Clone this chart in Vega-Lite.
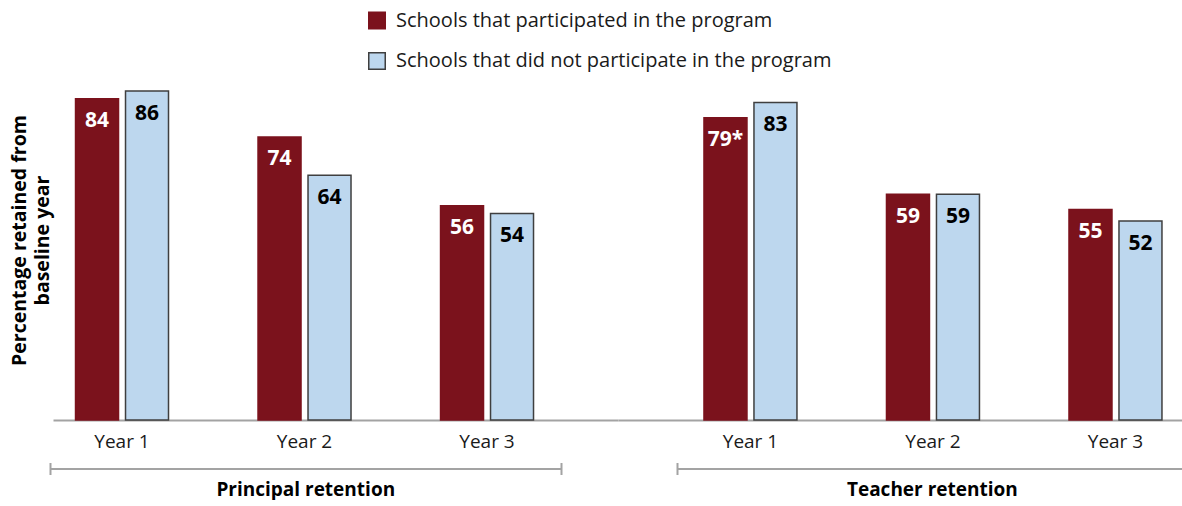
{
  "$schema": "https://vega.github.io/schema/vega-lite/v6.json",
  "padding": {"left": 9, "top": 0, "right": 0, "bottom": 0},
  "background": "white",
  "config": {"font": "Open Sans", "view": {"stroke": null}, "concat": {"spacing": 0}},
  "spacing": 0,
  "data": {"values": [
    {"group": "Principal retention", "year": "Year 1", "series": "Schools that participated in the program", "value": 84, "label": "84"},
    {"group": "Principal retention", "year": "Year 1", "series": "Schools that did not participate in the program", "value": 86, "label": "86"},
    {"group": "Principal retention", "year": "Year 2", "series": "Schools that participated in the program", "value": 74, "label": "74"},
    {"group": "Principal retention", "year": "Year 2", "series": "Schools that did not participate in the program", "value": 64, "label": "64"},
    {"group": "Principal retention", "year": "Year 3", "series": "Schools that participated in the program", "value": 56, "label": "56"},
    {"group": "Principal retention", "year": "Year 3", "series": "Schools that did not participate in the program", "value": 54, "label": "54"},
    {"group": "Teacher retention", "year": "Year 1", "series": "Schools that participated in the program", "value": 79, "label": "79*"},
    {"group": "Teacher retention", "year": "Year 1", "series": "Schools that did not participate in the program", "value": 83, "label": "83"},
    {"group": "Teacher retention", "year": "Year 2", "series": "Schools that participated in the program", "value": 59, "label": "59"},
    {"group": "Teacher retention", "year": "Year 2", "series": "Schools that did not participate in the program", "value": 59, "label": "59"},
    {"group": "Teacher retention", "year": "Year 3", "series": "Schools that participated in the program", "value": 55, "label": "55"},
    {"group": "Teacher retention", "year": "Year 3", "series": "Schools that did not participate in the program", "value": 52, "label": "52"}
  ]},
  "hconcat": [
    {
      "width": 565,
      "height": 420,
      "transform": [{"filter": "datum.group === 'Principal retention'"}],
      "resolve": {"scale": {"x": "independent"}, "axis": {"x": "independent"}},
      "layer": [
        {
          "layer": [
            {
              "mark": {"type": "bar", "strokeWidth": 1.5},
              "encoding": {
                "x": {"field": "year", "type": "nominal", "scale": {"paddingInner": 0.45, "paddingOuter": 0.2729, "align": 0.189},
                      "axis": {"orient": "bottom", "title": null, "labelAngle": 0, "ticks": false, "tickSize": 0, "domainColor": "#a3a3a3", "domainWidth": 2, "labelFontSize": 19, "labelColor": "#1a1a1a", "labelPadding": 12.5}},
                "xOffset": {"field": "series", "type": "nominal", "scale": {"domain": ["Schools that participated in the program", "Schools that did not participate in the program"], "paddingInner": 0.14, "paddingOuter": 0.074}},
                "y": {"field": "value", "type": "quantitative", "scale": {"domain": [0, 109.8], "nice": false},
                      "axis": {"title": ["Percentage retained from", "baseline year"], "titleFontSize": 19.5, "titleFontWeight": "bold", "titleColor": "#000", "titleLineHeight": 23, "titlePadding": 1, "titleY": 240, "labels": false, "ticks": false, "domain": false, "grid": false}},
                "fill": {"field": "series", "type": "nominal", "scale": {"domain": ["Schools that participated in the program", "Schools that did not participate in the program"], "range": ["#7B121C", "#BDD7EE"]},
                         "legend": {"title": null, "orient": "none", "legendX": 314, "legendY": 10.5, "symbolType": "square", "symbolSize": 272, "symbolStrokeWidth": 1.5, "labelFontSize": 20, "labelColor": "#1a1a1a", "rowPadding": 16.5, "labelOffset": 9, "labelLimit": 700}},
                "stroke": {"field": "series", "type": "nominal", "scale": {"domain": ["Schools that participated in the program", "Schools that did not participate in the program"], "range": ["#7B121C", "#3F3F3F"]},
                         "legend": {"title": null, "orient": "none", "legendX": 314, "legendY": 10.5, "symbolType": "square", "symbolSize": 272, "symbolStrokeWidth": 1.5, "labelFontSize": 20, "labelColor": "#1a1a1a", "rowPadding": 16.5, "labelOffset": 9, "labelLimit": 700}}
              }
            },
            {
              "mark": {"type": "text", "baseline": "alphabetic", "dy": 28.5, "fontSize": 21, "fontWeight": "bold"},
              "encoding": {
                "x": {"field": "year", "type": "nominal"},
                "xOffset": {"field": "series", "type": "nominal"},
                "y": {"field": "value", "type": "quantitative"},
                "text": {"field": "label"},
                "color": {"condition": {"test": "datum.series === 'Schools that participated in the program'", "value": "#ffffff"}, "value": "#000000"}
              }
            }
          ]
        },
        {
          "mark": {"type": "point", "opacity": 0},
          "encoding": {
            "x": {"datum": "a", "type": "nominal", "scale": {"type": "point", "domain": ["a", "b"], "range": [-3, 507.5], "padding": 0},
                  "axis": {"orient": "bottom", "offset": 48.5, "labels": false, "domainColor": "#a3a3a3", "domainWidth": 2, "tickColor": "#a3a3a3", "tickWidth": 2, "tickSize": 6, "title": "Principal retention", "titleFontSize": 19, "titleFontWeight": "bold", "titleColor": "#000", "titlePadding": 5}}
          }
        },
        {
          "mark": {"type": "point", "opacity": 0},
          "encoding": {
            "x": {"datum": "a", "type": "nominal", "scale": {"type": "point", "domain": ["a", "b"], "range": [-3, 507.5], "padding": 0},
                  "axis": {"orient": "bottom", "offset": 48.5, "labels": false, "domain": false, "tickColor": "#a3a3a3", "tickWidth": 2, "tickSize": -6, "title": null}}
          }
        }
      ]
    },
    {
      "width": 565,
      "height": 420,
      "transform": [{"filter": "datum.group === 'Teacher retention'"}],
      "resolve": {"scale": {"x": "independent"}, "axis": {"x": "independent"}},
      "layer": [
        {
          "layer": [
            {
              "mark": {"type": "bar", "strokeWidth": 1.5},
              "encoding": {
                "x": {"field": "year", "type": "nominal", "scale": {"paddingInner": 0.45, "paddingOuter": 0.2729, "align": 0.826},
                      "axis": {"orient": "bottom", "title": null, "labelAngle": 0, "ticks": false, "tickSize": 0, "domainColor": "#a3a3a3", "domainWidth": 2, "labelFontSize": 19, "labelColor": "#1a1a1a", "labelPadding": 12.5}},
                "xOffset": {"field": "series", "type": "nominal", "scale": {"domain": ["Schools that participated in the program", "Schools that did not participate in the program"], "paddingInner": 0.14, "paddingOuter": 0.074}},
                "y": {"field": "value", "type": "quantitative", "scale": {"domain": [0, 109.8], "nice": false}, "axis": null},
                "fill": {"field": "series", "type": "nominal"},
                "stroke": {"field": "series", "type": "nominal"}
              }
            },
            {
              "mark": {"type": "text", "baseline": "alphabetic", "dy": 28.5, "fontSize": 21, "fontWeight": "bold"},
              "encoding": {
                "x": {"field": "year", "type": "nominal"},
                "xOffset": {"field": "series", "type": "nominal"},
                "y": {"field": "value", "type": "quantitative"},
                "text": {"field": "label"},
                "color": {"condition": {"test": "datum.series === 'Schools that participated in the program'", "value": "#ffffff"}, "value": "#000000"}
              }
            }
          ]
        },
        {
          "mark": {"type": "point", "opacity": 0},
          "encoding": {
            "x": {"datum": "a", "type": "nominal", "scale": {"type": "point", "domain": ["a", "b"], "range": [58.7, 569], "padding": 0},
                  "axis": {"orient": "bottom", "offset": 48.5, "labels": false, "domainColor": "#a3a3a3", "domainWidth": 2, "tickColor": "#a3a3a3", "tickWidth": 2, "tickSize": 6, "title": "Teacher retention", "titleFontSize": 19, "titleFontWeight": "bold", "titleColor": "#000", "titlePadding": 5}}
          }
        },
        {
          "mark": {"type": "point", "opacity": 0},
          "encoding": {
            "x": {"datum": "a", "type": "nominal", "scale": {"type": "point", "domain": ["a", "b"], "range": [58.7, 569], "padding": 0},
                  "axis": {"orient": "bottom", "offset": 48.5, "labels": false, "domain": false, "tickColor": "#a3a3a3", "tickWidth": 2, "tickSize": -6, "title": null}}
          }
        }
      ]
    }
  ]
}
